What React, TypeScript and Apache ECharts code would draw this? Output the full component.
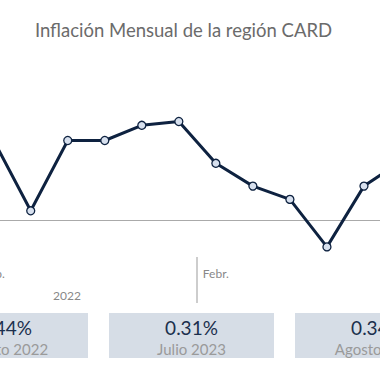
import React, { useEffect, useRef } from "react";
import * as echarts from "echarts";

const months = [
  "Ago. 2022", "Sep. 2022", "Oct. 2022", "Nov. 2022", "Dic. 2022", "Ene. 2023",
  "Febr. 2023", "Mar. 2023", "Abr. 2023", "May. 2023", "Jun. 2023", "Jul. 2023",
];
const axisLabels = ["Sep.", "", "", "", "", "", "Febr.", "", "", "", "", ""];
const inflation = [0.42, 0.05, 0.42, 0.42, 0.5, 0.52, 0.3, 0.18, 0.11, -0.14, 0.18, 0.31];
const yearLabel = "2022";
const cardValues = ["0.44%", "0.31%", "0.34%"];
const cardPeriods = ["Agosto 2022", "Julio 2023", "Agosto 2023"];
const titleText = "Inflación Mensual de la región CARD";

const FONT = "Lato, 'Noto Sans', sans-serif";
const OFF = 100; // inner canvas offset to the left of the visible window
const INNER_W = 620;

export default function App() {
  const ref = useRef<HTMLDivElement>(null);
  useEffect(() => {
    if (!ref.current) return;
    const chart = echarts.init(ref.current, null, { renderer: "svg" });
    const cardW = 165;
    const cardGap = 21;
    const cardX0 = -77 + OFF;
    const cards: any[] = [];
    cardValues.forEach((v, i) => {
      const x = cardX0 + i * (cardW + cardGap);
      const cx = x + cardW / 2;
      cards.push({
        type: "rect",
        shape: { x, y: 313, width: cardW, height: 45 },
        style: { fill: "#d6dde6" },
        silent: true,
      });
      cards.push({
        type: "text",
        x: cx,
        y: 327,
        style: {
          text: v,
          fill: "#1b2f4d",
          font: `19px ${FONT}`,
          align: "center",
          verticalAlign: "middle",
        },
      });
      cards.push({
        type: "text",
        x: cx,
        y: 349,
        style: {
          text: cardPeriods[i],
          fill: "#9a9a9a",
          font: `15px ${FONT}`,
          align: "center",
          verticalAlign: "middle",
        },
      });
    });

    const gridLeft = -6.3 + OFF;
    const gridRightEdge = 401 + OFF;

    chart.setOption({
      animation: false,
      backgroundColor: "#ffffff",
      grid: { left: gridLeft, right: INNER_W - gridRightEdge, top: 106.3, height: 152, containLabel: false },
      xAxis: {
        type: "category",
        data: months,
        boundaryGap: false,
        axisLine: { show: false },
        axisTick: { show: false },
        splitLine: { show: false },
        axisLabel: {
          interval: 0,
          margin: 9,
          color: "#888888",
          fontFamily: FONT,
          fontSize: 12,
          formatter: (_v: string, idx: number) => axisLabels[idx],
        },
      },
      yAxis: {
        type: "value",
        min: -0.2,
        max: 0.6,
        show: false,
        splitLine: { show: false },
      },
      series: [
        {
          type: "line",
          data: inflation,
          symbol: "circle",
          symbolSize: 8,
          showSymbol: true,
          lineStyle: { color: "#0e2240", width: 3 },
          itemStyle: { color: "#d7e0ee", borderColor: "#0e2240", borderWidth: 1.3 },
          z: 3,
          markLine: {
            silent: true,
            symbol: "none",
            label: { show: false },
            lineStyle: { color: "#aaaaaa", width: 1, type: "solid" },
            data: [{ yAxis: 0 }],
            z: 1,
          },
        },
      ],
      graphic: [
        {
          type: "text",
          x: 183.5 + OFF,
          y: 30,
          style: {
            text: titleText,
            fill: "#6b6b6b",
            font: `18.5px ${FONT}`,
            align: "center",
            verticalAlign: "middle",
          },
        },
        {
          type: "line",
          shape: { x1: 197 + OFF, y1: 257, x2: 197 + OFF, y2: 303 },
          style: { stroke: "#bdbdbd", lineWidth: 1.5 },
          silent: true,
        },
        {
          type: "text",
          x: 67 + OFF,
          y: 295,
          style: {
            text: yearLabel,
            fill: "#888888",
            font: `12px ${FONT}`,
            align: "center",
            verticalAlign: "middle",
          },
        },
        ...cards,
      ],
    });
    return () => chart.dispose();
  }, []);
  return (
    <div style={{ position: "fixed", left: 0, top: 0, width: 380, height: 380, overflow: "hidden", background: "#fff" }}>
      <div ref={ref} style={{ position: "absolute", left: -OFF, top: 0, width: INNER_W, height: 380 }} />
    </div>
  );
}
